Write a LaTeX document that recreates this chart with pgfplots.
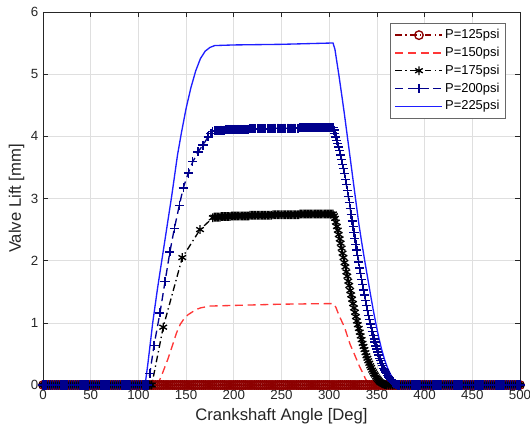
\documentclass[border=0pt]{standalone}
\usepackage{fontspec}
\setmainfont{Liberation Sans}
\usepackage{pgfplots}
\pgfplotsset{compat=1.18}
\definecolor{lowred}{RGB}{140,0,0}
\definecolor{midred}{RGB}{255,55,55}
\definecolor{navyb}{RGB}{0,0,140}
\definecolor{brightb}{RGB}{30,30,255}
\definecolor{gridgray}{RGB}{223,223,223}
\definecolor{axgray}{RGB}{38,38,38}
\begin{document}
\begin{tikzpicture}
\begin{axis}[
  scale only axis,
  width=357.75pt, height=279.75pt,
  xmin=0, xmax=500, ymin=0, ymax=6,
  xtick={0,50,...,500}, ytick={0,1,...,6},
  grid=major, grid style={line width=0.5pt, draw=gridgray},
  axis line style={draw=axgray, line width=0.5pt},
  tick style={draw=axgray, line width=0.5pt},
  tick align=inside, major tick length=4pt,
  xtick pos=both, ytick pos=both,
  /pgf/number format/assume math mode=true,
  ticklabel style={font=\fontsize{10}{12}\selectfont, text=axgray},
  label style={font=\fontsize{12.5}{15}\selectfont, text=axgray},
  xlabel={Crankshaft Angle [Deg]},
  ylabel={Valve Lift [mm]},
  ylabel style={yshift=-2pt},
  clip=false,
  every axis plot/.append style={line width=1pt},
  legend style={at={(0.97,0.97)}, anchor=north east, draw=axgray!70, fill=white,
    font=\fontsize{9.7}{11}\selectfont, row sep=1.8pt, inner sep=3pt,
    nodes={inner sep=1.5pt}},
  legend cell align=left,
  legend image code/.code={\draw[mark repeat=2,mark phase=2,#1] plot coordinates {(0cm,0cm) (0.62cm,0cm) (1.24cm,0cm)};},
]
% P=125 psi: valve stays closed
\addplot[color=lowred, dash pattern=on 5pt off 2.5pt on 1pt off 2.5pt, mark=o, mark size=3.2pt, mark options={solid}] coordinates {
(0,0)(2,0)(4,0)(6,0)(8,0)(10,0)(12,0)(14,0)(16,0)(18,0)(20,0)(22,0)(24,0)(26,0)(28,0)(30,0)(32,0)(34,0)(36,0)(38,0)
(40,0)(42,0)(44,0)(46,0)(48,0)(50,0)(52,0)(54,0)(56,0)(58,0)(60,0)(62,0)(64,0)(66,0)(68,0)(70,0)(72,0)(74,0)(76,0)(78,0)
(80,0)(82,0)(84,0)(86,0)(88,0)(90,0)(92,0)(94,0)(96,0)(98,0)(100,0)(102,0)(104,0)(106,0)(108,0)(110,0)(112,0)(114,0)(116,0)(118,0)
(120,0)(122,0)(124,0)(126,0)(128,0)(130,0)(132,0)(134,0)(136,0)(138,0)(140,0)(142,0)(144,0)(146,0)(148,0)(150,0)(152,0)(154,0)(156,0)(158,0)
(160,0)(162,0)(164,0)(166,0)(168,0)(170,0)(172,0)(174,0)(176,0)(178,0)(180,0)(182,0)(184,0)(186,0)(188,0)(190,0)(192,0)(194,0)(196,0)(198,0)
(200,0)(202,0)(204,0)(206,0)(208,0)(210,0)(212,0)(214,0)(216,0)(218,0)(220,0)(222,0)(224,0)(226,0)(228,0)(230,0)(232,0)(234,0)(236,0)(238,0)
(240,0)(242,0)(244,0)(246,0)(248,0)(250,0)(252,0)(254,0)(256,0)(258,0)(260,0)(262,0)(264,0)(266,0)(268,0)(270,0)(272,0)(274,0)(276,0)(278,0)
(280,0)(282,0)(284,0)(286,0)(288,0)(290,0)(292,0)(294,0)(296,0)(298,0)(300,0)(302,0)(304,0)(306,0)(308,0)(310,0)(312,0)(314,0)(316,0)(318,0)
(320,0)(322,0)(324,0)(326,0)(328,0)(330,0)(332,0)(334,0)(336,0)(338,0)(340,0)(342,0)(344,0)(346,0)(348,0)(350,0)(352,0)(354,0)(356,0)(358,0)
(360,0)(362,0)(364,0)(366,0)(368,0)(370,0)(372,0)(374,0)(376,0)(378,0)(380,0)(382,0)(384,0)(386,0)(388,0)(390,0)(392,0)(394,0)(396,0)(398,0)
(400,0)(402,0)(404,0)(406,0)(408,0)(410,0)(412,0)(414,0)(416,0)(418,0)(420,0)(422,0)(424,0)(426,0)(428,0)(430,0)(432,0)(434,0)(436,0)(438,0)
(440,0)(442,0)(444,0)(446,0)(448,0)(450,0)(452,0)(454,0)(456,0)(458,0)(460,0)(462,0)(464,0)(466,0)(468,0)(470,0)(472,0)(474,0)(476,0)(478,0)
(480,0)(482,0)(484,0)(486,0)(488,0)(490,0)(492,0)(494,0)(496,0)(498,0)(500,0)
};
\addlegendentry{P=125psi}
% P=150 psi
\addplot[color=midred, dash pattern=on 6pt off 3.5pt] coordinates {
(0,0)(120,0)(125,0.18)(131,0.42)(136,0.65)(140,0.84)(144,0.98)(148,1.07)(152,1.13)(156,1.17)(160,1.21)(165,1.24)(175,1.27)(200,1.28)(250,1.30)(304,1.31)
(307,1.25)(310,1.13)(313,1.03)(316,0.93)(319,0.79)(322,0.65)(326,0.51)(329,0.40)(332,0.29)(335,0.20)(338,0.10)(340,0.05)(343,0)(500,0)
};
\addlegendentry{P=150psi}
% P=175 psi
\addplot[color=black, dash pattern=on 5pt off 2.5pt on 1pt off 2.5pt, mark=asterisk, mark size=3.3pt, mark options={solid}] coordinates {
(0,0)(2,0)(4,0)(6,0)(8,0)(10,0)(12,0)(14,0)(16,0)(18,0)(20,0)(22,0)(24,0)(26,0)(28,0)(30,0)(32,0)(34,0)(36,0)(38,0)
(40,0)(42,0)(44,0)(46,0)(48,0)(50,0)(52,0)(54,0)(56,0)(58,0)(60,0)(62,0)(64,0)(66,0)(68,0)(70,0)(72,0)(74,0)(76,0)(78,0)
(80,0)(82,0)(84,0)(86,0)(88,0)(90,0)(92,0)(94,0)(96,0)(98,0)(100,0)(102,0)(104,0)(106,0)(108,0)(110,0)(112,0)(114,0)
(126,0.93)(146,2.05)(164.6,2.50)(178,2.69)
(179.5,2.70)(181,2.70)(182.5,2.70)(184,2.70)(185.5,2.70)(187,2.71)(188.5,2.71)(190,2.71)(191.5,2.71)(193,2.71)(194.5,2.71)(196,2.71)
(197.5,2.72)(199,2.72)(200.5,2.72)(202,2.72)(203.5,2.72)(205,2.72)(206.5,2.72)(208,2.72)(209.5,2.72)(211,2.72)(212.5,2.72)(214,2.72)(215.5,2.72)
(217,2.73)(218.5,2.73)(220,2.73)(221.5,2.73)(223,2.73)(224.5,2.73)(226,2.73)(227.5,2.73)(229,2.73)(230.5,2.73)(232,2.73)(233.5,2.73)
(235,2.73)(236.5,2.73)(238,2.73)(239.5,2.73)
(241,2.74)(242.5,2.74)(244,2.74)(245.5,2.74)(247,2.74)(248.5,2.74)(250,2.74)(251.5,2.74)(253,2.74)(254.5,2.74)(256,2.74)(257.5,2.74)
(259,2.74)(260.5,2.74)(262,2.74)(263.5,2.74)(265,2.74)(266.5,2.74)(268,2.74)
(269.5,2.75)(271,2.75)(272.5,2.75)(274,2.75)(275.5,2.75)(277,2.75)(278.5,2.75)(280,2.75)(281.5,2.75)(283,2.75)(284.5,2.75)(286,2.75)
(287.5,2.75)(289,2.75)(290.5,2.75)(292,2.75)(293.5,2.75)(295,2.75)(296.5,2.75)(298,2.75)(299.5,2.75)(301,2.75)(302.5,2.75)(304,2.75)
(305,2.72)(306,2.68)(307,2.62)(308,2.55)(309,2.49)(310,2.42)(311,2.35)(312,2.28)(313,2.20)(314,2.12)(315,2.05)(316,1.97)
(317,1.90)(318,1.82)(319,1.75)(320,1.67)(321,1.60)(322,1.52)(323,1.45)(324,1.38)(325,1.31)(326,1.24)(327,1.17)(328,1.10)
(329,1.03)(330,0.97)(331,0.91)(332,0.85)(333,0.79)(334,0.73)(335,0.67)(336,0.62)(337,0.57)(338,0.52)(339,0.47)(340,0.43)
(341,0.39)(342,0.35)(343,0.31)(344,0.28)(345,0.24)(346,0.21)(347,0.18)(348,0.16)(349,0.13)(350,0.11)(351,0.09)(352,0.07)
(353,0.05)(354,0.04)(355,0.03)(356,0.02)(357,0.015)(358,0.01)(359,0.005)(360,0)
(362,0)(364,0)(366,0)(368,0)(370,0)(372,0)(374,0)(376,0)(378,0)(380,0)(382,0)(384,0)(386,0)(388,0)(390,0)(392,0)(394,0)(396,0)(398,0)
(400,0)(402,0)(404,0)(406,0)(408,0)(410,0)(412,0)(414,0)(416,0)(418,0)(420,0)(422,0)(424,0)(426,0)(428,0)(430,0)(432,0)(434,0)(436,0)(438,0)
(440,0)(442,0)(444,0)(446,0)(448,0)(450,0)(452,0)(454,0)(456,0)(458,0)(460,0)(462,0)(464,0)(466,0)(468,0)(470,0)(472,0)(474,0)(476,0)(478,0)
(480,0)(482,0)(484,0)(486,0)(488,0)(490,0)(492,0)(494,0)(496,0)(498,0)(500,0)
};
\addlegendentry{P=175psi}
% P=200 psi
\addplot[color=navyb, dash pattern=on 6pt off 3.5pt, mark=+, mark size=3.4pt, mark options={solid}] coordinates {
(0,0)(2,0)(4,0)(6,0)(8,0)(10,0)(12,0)(14,0)(16,0)(18,0)(20,0)(22,0)(24,0)(26,0)(28,0)(30,0)(32,0)(34,0)(36,0)(38,0)
(40,0)(42,0)(44,0)(46,0)(48,0)(50,0)(52,0)(54,0)(56,0)(58,0)(60,0)(62,0)(64,0)(66,0)(68,0)(70,0)(72,0)(74,0)(76,0)(78,0)
(80,0)(82,0)(84,0)(86,0)(88,0)(90,0)(92,0)(94,0)(96,0)(98,0)(100,0)(102,0)(104,0)(106,0)(108,0)(110,0)
(112,0.19)(116.4,0.64)(122.6,1.16)(127.9,1.66)(133,2.14)(137.7,2.52)(142.9,2.89)(147,3.17)(152.3,3.41)(157,3.59)
(162.5,3.75)(167.7,3.86)(173,3.99)(176,4.05)(178,4.08)
(179.5,4.09)(181,4.09)(182.5,4.09)(184,4.09)(185.5,4.10)(187,4.10)(188.5,4.10)(190,4.10)
(191.5,4.11)(193,4.11)(194.5,4.11)(196,4.11)(197.5,4.11)(199,4.11)(200.5,4.11)(202,4.11)(203.5,4.11)(205,4.11)(206.5,4.11)(208,4.11)
(209.5,4.11)(211,4.11)(212.5,4.11)(214,4.11)(215.5,4.11)
(217,4.12)(218.5,4.12)(220,4.12)(221.5,4.12)(223,4.12)(224.5,4.12)(226,4.12)(227.5,4.12)(229,4.12)(230.5,4.12)(232,4.12)(233.5,4.12)
(235,4.12)(236.5,4.12)(238,4.12)(239.5,4.12)
(241,4.13)(242.5,4.13)(244,4.13)(245.5,4.13)(247,4.13)(248.5,4.13)(250,4.13)(251.5,4.13)(253,4.13)(254.5,4.13)(256,4.13)(257.5,4.13)
(259,4.13)(260.5,4.13)(262,4.13)(263.5,4.13)(265,4.13)(266.5,4.13)(268,4.13)
(269.5,4.14)(271,4.14)(272.5,4.14)(274,4.14)(275.5,4.14)(277,4.14)(278.5,4.14)(280,4.14)(281.5,4.14)(283,4.14)(284.5,4.14)(286,4.14)
(287.5,4.14)(289,4.14)(290.5,4.14)(292,4.14)(293.5,4.14)(295,4.14)(296.5,4.14)(298,4.14)(299.5,4.14)(301,4.14)(302.5,4.14)(304,4.14)
(305,4.10)(306,4.05)(307,3.99)(308,3.93)(309,3.88)(310,3.83)(311,3.77)(312,3.70)(313,3.63)(314,3.55)(315,3.48)(316,3.40)
(317,3.31)(318,3.22)(319,3.13)(320,3.03)(321,2.94)(322,2.84)(323,2.74)(324,2.64)(325,2.55)(326,2.45)(327,2.36)(328,2.26)
(329,2.17)(330,2.08)(331,1.98)(332,1.88)(333,1.79)(334,1.70)(335,1.62)(336,1.53)(337,1.45)(338,1.36)(339,1.28)(340,1.20)
(341,1.12)(342,1.05)(343,0.98)(344,0.92)(345,0.86)(346,0.80)(347,0.74)(348,0.69)(349,0.63)(350,0.58)(351,0.53)(352,0.48)
(353,0.43)(354,0.39)(355,0.35)(356,0.31)(357,0.27)(358,0.24)(359,0.21)(360,0.18)(361,0.15)(362,0.13)(363,0.11)(364,0.09)
(365,0.07)(366,0.06)(367,0.04)(368,0.03)(369,0.02)(370,0.01)(371,0.005)(372,0)
(374,0)(376,0)(378,0)(380,0)(382,0)(384,0)(386,0)(388,0)(390,0)(392,0)(394,0)(396,0)(398,0)
(400,0)(402,0)(404,0)(406,0)(408,0)(410,0)(412,0)(414,0)(416,0)(418,0)(420,0)(422,0)(424,0)(426,0)(428,0)(430,0)(432,0)(434,0)(436,0)(438,0)
(440,0)(442,0)(444,0)(446,0)(448,0)(450,0)(452,0)(454,0)(456,0)(458,0)(460,0)(462,0)(464,0)(466,0)(468,0)(470,0)(472,0)(474,0)(476,0)(478,0)
(480,0)(482,0)(484,0)(486,0)(488,0)(490,0)(492,0)(494,0)(496,0)(498,0)(500,0)
};
\addlegendentry{P=200psi}
% P=225 psi
\addplot[color=brightb, solid] coordinates {
(0,0)(107,0)(110,0.35)(115,1.00)(120,1.55)(125,2.05)(130,2.55)(135,3.05)(141,3.70)(145,4.05)(150,4.45)(155,4.78)
(160,5.05)(165,5.25)(170,5.37)(175,5.43)(180,5.46)(200,5.47)(250,5.48)(300,5.50)(304,5.50)
(306,5.40)(308,5.20)(310,5.00)(313,4.68)(316,4.35)(319,4.00)(322,3.65)(325,3.30)(328,2.95)(331,2.60)(334,2.30)
(337,2.02)(340,1.75)(343,1.48)(346,1.22)(349,0.98)(352,0.76)(355,0.57)(358,0.41)(361,0.28)(364,0.18)(367,0.10)
(370,0.04)(373,0.01)(375,0)(500,0)
};
\addlegendentry{P=225psi}
\end{axis}
\pgfresetboundingbox
\useasboundingbox ([shift={(-32.25pt,-39.75pt)}]current axis.south west) rectangle ([shift={(7.5pt,9pt)}]current axis.north east);
\end{tikzpicture}
\end{document}
